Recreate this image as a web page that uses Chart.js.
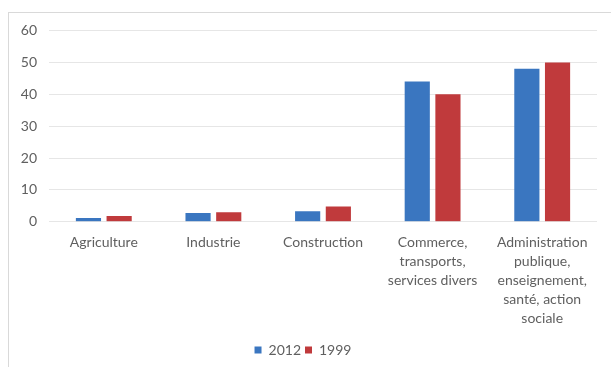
<!DOCTYPE html>
<html>
<head>
<meta charset="utf-8">
<script src="https://cdn.jsdelivr.net/npm/chart.js@4/dist/chart.umd.min.js"></script>
<style>
  html, body { margin: 0; padding: 0; background: #fff; }
  body { width: 611px; height: 367px; overflow: hidden; position: relative; }
  #frame {
    position: absolute; left: 8px; top: 12px; width: 603px; height: 355px;
    border-top: 1px solid #d9d9d9; border-left: 1px solid #d9d9d9;
    box-sizing: border-box;
  }
  #frame canvas { display: block; }
</style>
</head>
<body>
<div id="frame"><canvas id="chart" width="602" height="354"></canvas></div>
<script>
// sectors on the x axis (multi-line labels)
const sectors = [
    'Agriculture',
    'Industrie',
    'Construction',
    ['Commerce,', 'transports,', 'services divers'],
    ['Administration', 'publique,', 'enseignement,', 'santé, action', 'sociale']
];

// share per sector, by year
const values2012 = [1.2, 2.8, 3.3, 44, 48];
const values1999 = [1.8, 3.0, 4.8, 40, 50];

// y axis ticks
const yTicks = [0, 10, 20, 30, 40, 50, 60];

const textColor = '#5f5f5f';
const fontFamily = 'Lato, "Open Sans", sans-serif';

new Chart(document.getElementById('chart').getContext('2d'), {
    type: 'bar',
    data: {
        labels: sectors,
        datasets: [
            {
                label: '2012',
                data: values2012,
                backgroundColor: '#3a76c0',
                categoryPercentage: 0.56,
                barPercentage: 0.82
            },
            {
                label: '1999',
                data: values1999,
                backgroundColor: '#c03a3c',
                categoryPercentage: 0.56,
                barPercentage: 0.82
            }
        ]
    },
    options: {
        responsive: false,
        animation: false,
        layout: { padding: { left: 0, right: 14, top: 6, bottom: 0 } },
        scales: {
            x: {
                grid: { display: false, drawTicks: false },
                border: { display: false },
                ticks: {
                    color: textColor,
                    font: { family: fontFamily, size: 14, lineHeight: 1.36 },
                    maxRotation: 0,
                    autoSkip: false,
                    padding: 11
                }
            },
            y: {
                min: yTicks[0],
                max: yTicks[yTicks.length - 1],
                afterBuildTicks: axis => {
                    axis.ticks = yTicks.map(v => ({ value: v }));
                },
                afterFit: axis => { axis.width = 40; },
                grid: { color: '#e6e6e6', lineWidth: 1, drawTicks: false },
                border: { display: false },
                ticks: {
                    color: textColor,
                    font: { family: fontFamily, size: 14, lineHeight: 0.8 },
                    padding: 12
                }
            }
        },
        plugins: {
            legend: {
                position: 'bottom',
                labels: {
                    color: textColor,
                    font: { family: fontFamily, size: 14 },
                    boxWidth: 7,
                    boxHeight: 7,
                    padding: 4
                }
            },
            tooltip: { enabled: false }
        }
    }
});
</script>
</body>
</html>
